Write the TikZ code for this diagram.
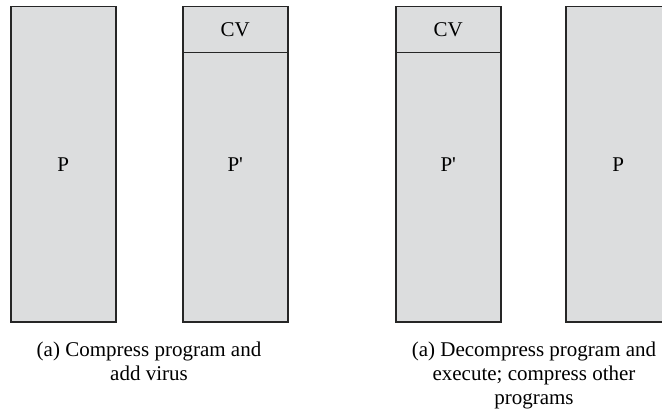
\documentclass[tikz,border=0pt]{standalone}
\usepackage{fontspec}
\setmainfont{Liberation Serif}
\definecolor{boxgray}{RGB}{220,221,222}
\definecolor{edge}{RGB}{38,38,38}
\begin{document}
\begin{tikzpicture}[x=1pt,y=-1pt,
  every node/.style={font=\fontsize{21}{24}\selectfont, text=black},
  box/.style={draw=edge, fill=boxgray, line width=1.5pt, inner sep=0pt,
    minimum width=105pt, minimum height=315pt, anchor=north west},
  cvbox/.style={box, minimum height=46pt},
  caption/.style={align=center, inner sep=0pt, anchor=north}]
\useasboundingbox (0,0) rectangle (662,412);
\clip (0,0) rectangle (662,412);
% boxes
\node[box] (b1) at (10,6) {P};
\node[box] (b2) at (182,6) {P\textquotesingle};
\node[cvbox] (cv2) at (182,6) {CV};
\node[box] (b3) at (395,6) {P\textquotesingle};
\node[cvbox] (cv3) at (395,6) {CV};
\node[box] (b4) at (565,6) {P};
% captions
\node[caption] (cap1) at (149,342) {(a) Compress program and\\add virus};
\node[caption] (cap2) at (534,342) {(a) Decompress program and\\execute; compress other\\programs};
\end{tikzpicture}
\end{document}
